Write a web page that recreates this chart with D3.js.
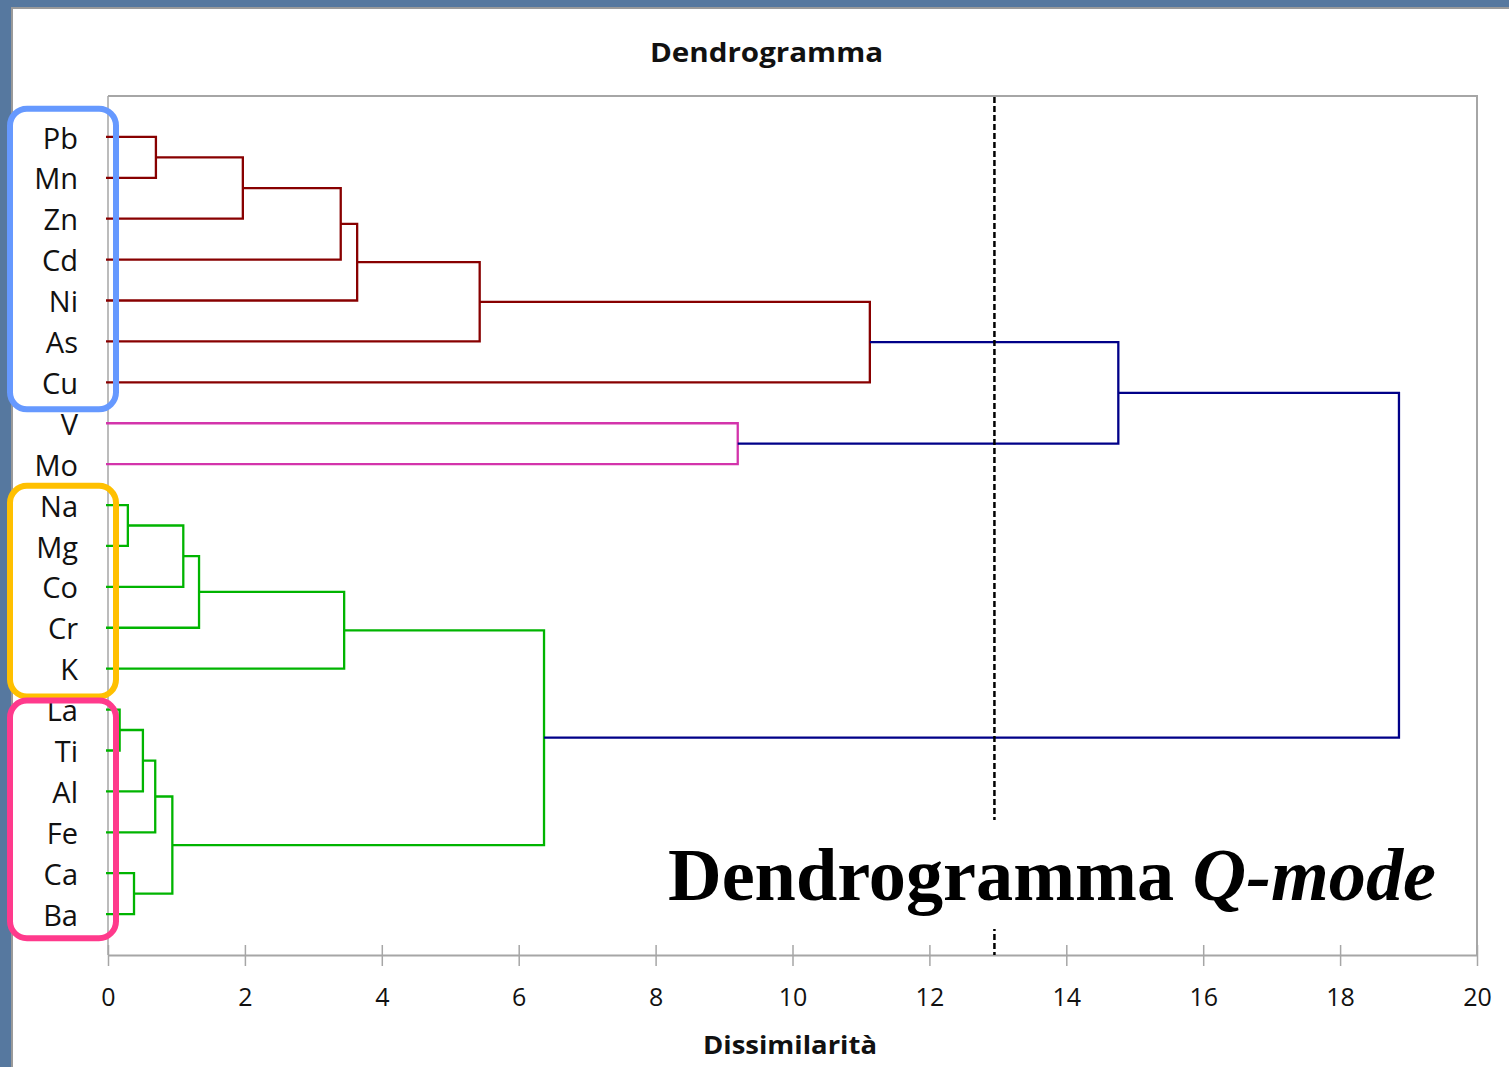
<!DOCTYPE html>
<html>
<head>
<meta charset="utf-8">
<title>Dendrogramma Q-mode</title>
<script src="https://d3js.org/d3.v7.min.js"></script>
<style>
  html, body { margin: 0; padding: 0; background: #56789f; }
  svg { display: block; }
</style>
</head>
<body>
<svg width="1509" height="1067"></svg>
<script>

// leaves, top to bottom
var leaves = ["Pb", "Mn", "Zn", "Cd", "Ni", "As", "Cu", "V", "Mo",
              "Na", "Mg", "Co", "Cr", "K", "La", "Ti", "Al", "Fe", "Ca", "Ba"];

// merges: [child a, child b, dissimilarity]; "m3" = result of merge 3
var merges = [
  ["Pb", "Mn", 0.70],
  ["m0", "Zn", 1.97],
  ["m1", "Cd", 3.40],
  ["m2", "Ni", 3.64],
  ["m3", "As", 5.43],
  ["m4", "Cu", 11.13],
  ["V", "Mo", 9.20],
  ["m5", "m6", 14.76],
  ["Na", "Mg", 0.29],
  ["m8", "Co", 1.10],
  ["m9", "Cr", 1.33],
  ["m10", "K", 3.45],
  ["La", "Ti", 0.17],
  ["m12", "Al", 0.51],
  ["m13", "Fe", 0.69],
  ["Ca", "Ba", 0.38],
  ["m14", "m15", 0.94],
  ["m11", "m16", 6.37],
  ["m7", "m17", 18.86]
];

// cluster each merge belongs to
var mergeCluster = ["c1", "c1", "c1", "c1", "c1", "c1", "c2", "top",
                    "c3", "c3", "c3", "c3", "c3", "c3", "c3", "c3", "c3", "c3", "top"];

// highlighted groups of leaves (first, last)
var groups = [["Pb", "Cu"], ["Na", "K"], ["La", "Ba"]];

var xTicks = [0, 2, 4, 6, 8, 10, 12, 14, 16, 18, 20];
var cutLevel = 12.95;

var svg = d3.select("svg"),
    width = +svg.attr("width"),
    height = +svg.attr("height");

var font = "'Open Sans', 'Noto Sans', sans-serif";

// white slide panel
svg.append("rect")
    .attr("x", 12)
    .attr("y", 8)
    .attr("width", width)
    .attr("height", height)
    .attr("fill", "#fff")
    .attr("stroke", "#9a9a9a")
    .attr("stroke-width", 2);

var x = d3.scaleLinear()
    .domain([0, 20])
    .range([108, 1477]);

var y = d3.scalePoint()
    .domain(leaves)
    .range([96, 955])
    .padding(1);

var color = d3.scaleOrdinal()
    .domain(["c1", "c2", "c3", "top"])
    .range(["#880000", "#d334ab", "#00b400", "#000088"]);

// plot frame
svg.append("path")
    .attr("d", "M" + x(0) + "," + y.range()[0] + "H" + x(20) + "V" + y.range()[1])
    .attr("fill", "none")
    .attr("stroke", "#a6a6a6")
    .attr("stroke-width", 2);

svg.append("line")
    .attr("x1", x(0)).attr("x2", x(0))
    .attr("y1", y.range()[0]).attr("y2", y.range()[1])
    .attr("stroke", "#a6a6a6")
    .attr("stroke-width", 1.5);

// x axis
var axis = svg.append("g")
    .attr("transform", "translate(0," + y.range()[1] + ")")
    .call(d3.axisBottom(x).tickValues(xTicks).tickSize(11).tickSizeOuter(0));

axis.select(".domain").attr("stroke", "#a6a6a6").attr("stroke-width", 2);
axis.selectAll(".tick line")
    .attr("y1", -10)
    .attr("y2", 11)
    .attr("stroke", "#a6a6a6")
    .attr("stroke-width", 1.5);
axis.selectAll(".tick text")
    .attr("y", 33)
    .attr("fill", "#111")
    .attr("font-family", font)
    .attr("font-size", 25);

// node positions
var pos = {};
leaves.forEach(function(d) { pos[d] = {h: 0, y: y(d)}; });

var links = svg.append("g").attr("fill", "none").attr("stroke-width", 2.3);

merges.forEach(function(m, i) {
  var a = pos[m[0]], b = pos[m[1]];
  var xm = x(m[2]);
  pos["m" + i] = {h: m[2], y: (a.y + b.y) / 2};
  var xa = a.h == 0 ? x(0) - 2 : x(a.h),
      xb = b.h == 0 ? x(0) - 2 : x(b.h);
  links.append("path")
      .attr("stroke", color(mergeCluster[i]))
      .attr("d", "M" + xa + "," + a.y + "H" + xm + "V" + b.y + "H" + xb);
});

// leaf labels
svg.append("g").selectAll("text")
    .data(leaves)
    .enter().append("text")
    .attr("x", 78)
    .attr("y", function(d) { return y(d); })
    .attr("dy", "0.4em")
    .attr("text-anchor", "end")
    .attr("font-family", font)
    .attr("font-size", 29)
    .attr("fill", "#111")
    .text(function(d) { return d; });

// cut line
svg.append("line")
    .attr("x1", x(cutLevel)).attr("x2", x(cutLevel))
    .attr("y1", y.range()[0] + 1).attr("y2", y.range()[1])
    .attr("stroke", "#000")
    .attr("stroke-width", 2.5)
    .attr("stroke-dasharray", "6,3");

// rounded group boxes
var boxColors = ["#6699ff", "#ffc000", "#ff3a8c"];
var step = y.step();
var boxPad = [[0.69, 0.66], [0.47, 0.68], [0.22, 0.59]];
svg.append("g").selectAll("rect")
    .data(groups)
    .enter().append("rect")
    .attr("x", 10)
    .attr("width", 106)
    .attr("y", function(d, i) { return y(d[0]) - boxPad[i][0] * step; })
    .attr("height", function(d, i) {
      return y(d[1]) - y(d[0]) + (boxPad[i][0] + boxPad[i][1]) * step;
    })
    .attr("rx", 17)
    .attr("fill", "none")
    .attr("stroke", function(d, i) { return boxColors[i]; })
    .attr("stroke-width", 6);

// titles
svg.append("text")
    .attr("x", 650)
    .attr("y", 62)
    .attr("font-family", font)
    .attr("font-weight", "bold")
    .attr("font-size", 27)
    .attr("textLength", 233)
    .attr("lengthAdjust", "spacingAndGlyphs")
    .attr("fill", "#111")
    .text("Dendrogramma");

svg.append("text")
    .attr("x", 703)
    .attr("y", 1054)
    .attr("font-family", font)
    .attr("font-weight", "bold")
    .attr("font-size", 25)
    .attr("textLength", 174)
    .attr("lengthAdjust", "spacingAndGlyphs")
    .attr("fill", "#111")
    .text("Dissimilarità");

// slide caption over the chart
svg.append("rect")
    .attr("x", 660)
    .attr("y", 820)
    .attr("width", 790)
    .attr("height", 109)
    .attr("fill", "#fff");

var cap = svg.append("text")
    .attr("x", 668)
    .attr("y", 900)
    .attr("font-family", "'Liberation Serif', 'Times New Roman', serif")
    .attr("font-weight", "bold")
    .attr("font-size", 74)
    .attr("textLength", 768)
    .attr("lengthAdjust", "spacingAndGlyphs")
    .attr("fill", "#000");
cap.append("tspan").text("Dendrogramma ");
cap.append("tspan").attr("font-style", "italic").text("Q-mode");

</script>
</body>
</html>
